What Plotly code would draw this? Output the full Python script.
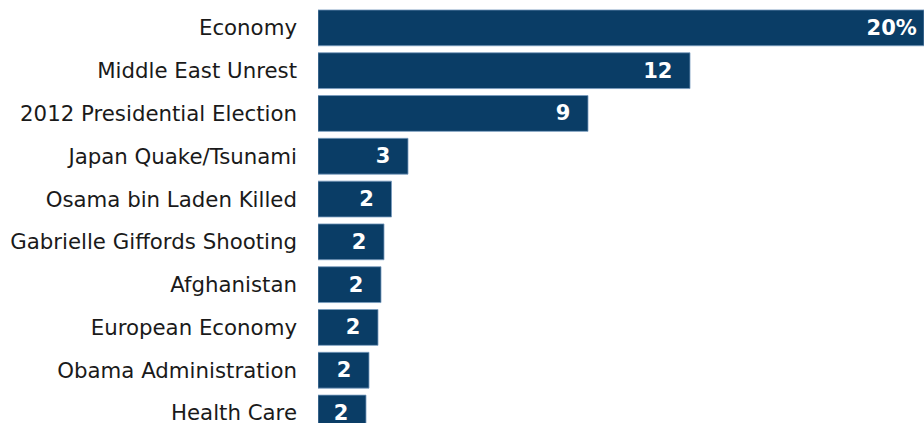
import plotly.graph_objects as go

categories = ["Economy", "Middle East Unrest", "2012 Presidential Election",
              "Japan Quake/Tsunami", "Osama bin Laden Killed",
              "Gabrielle Giffords Shooting", "Afghanistan", "European Economy",
              "Obama Administration", "Health Care"]
values = [20.2, 12.4, 9.0, 3.0, 2.45, 2.2, 2.1, 2.0, 1.7, 1.6]
value_labels = ["20%", "12", "9", "3", "2", "2", "2", "2", "2", "2"]

NB = "\u00a0"
THIN = "\u2009"
templates = ["%{text}" + (THIN if i == 0 else NB * 2) for i in range(len(values))]

fig = go.Figure(go.Bar(
    x=values,
    y=categories,
    orientation="h",
    text=value_labels,
    texttemplate=templates,
    textposition="inside",
    insidetextanchor="end",
    textangle=0,
    constraintext="none",
    insidetextfont=dict(family="DejaVu Sans", size=21, color="white", weight="bold"),
    marker=dict(color="#0A3D66", line=dict(color="rgba(120,155,190,0.8)", width=1)),
    hoverinfo="skip",
))

fig.update_layout(
    width=924, height=425,
    margin=dict(l=318, r=0, t=0, b=0),
    plot_bgcolor="white", paper_bgcolor="white",
    bargap=0.163,
    showlegend=False,
    font=dict(family="DejaVu Sans", size=21, color="#1a1a1a"),
)
fig.update_xaxes(range=[0, 20.2], visible=False, showgrid=False, zeroline=False)
fig.update_yaxes(
    categoryorder="array", categoryarray=categories,
    range=[9.233, -0.651],
    showgrid=False, zeroline=False, showline=False,
    ticks="", ticklabelstandoff=20,
    tickfont=dict(family="DejaVu Sans", size=21.3, color="#1a1a1a"),
)

fig.write_html(
    "out.html",
    config={"displayModeBar": False},
    post_script="document.body.style.margin='0';document.body.style.overflow='hidden';",
)
